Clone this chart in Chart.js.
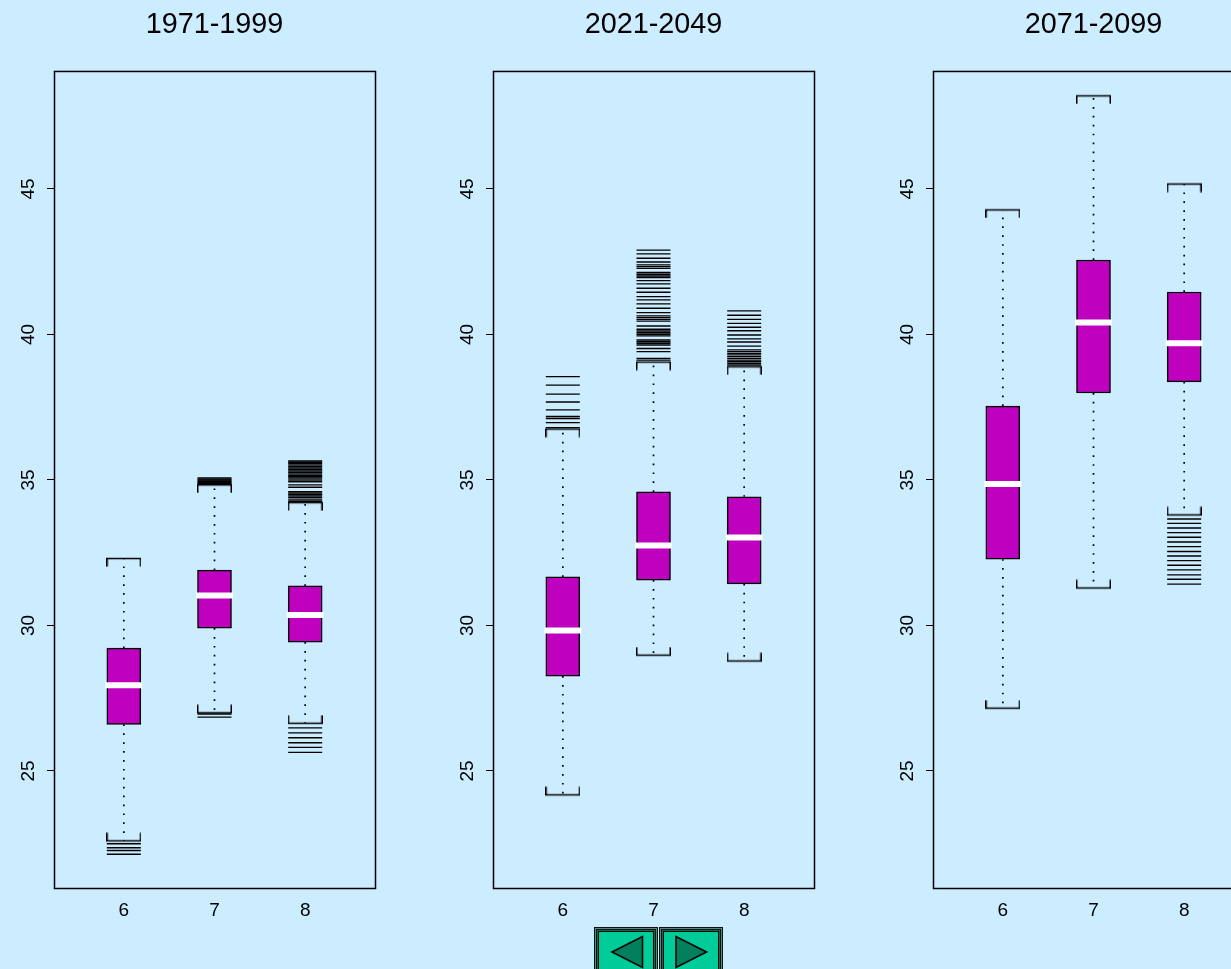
<!DOCTYPE html>
<html>
<head>
<meta charset="utf-8">
<script src="https://cdn.jsdelivr.net/npm/chart.js@4"></script>
<style>
html,body{margin:0;padding:0;width:1231px;height:969px;overflow:hidden;background:#CCECFF;}
canvas{position:absolute;top:0;}
svg{position:absolute;left:0;top:0;}
</style>
</head>
<body>
<canvas id="c0" width="400" height="969" style="left:0px"></canvas>
<canvas id="c1" width="400" height="969" style="left:439px"></canvas>
<canvas id="c2" width="400" height="969" style="left:879px"></canvas>
<svg width="1231" height="969">
  <g stroke="#000" stroke-width="1">
    <rect x="594.5" y="927.5" width="63" height="60" fill="#4f8f7f" stroke="#111"/>
    <rect x="596.5" y="929.5" width="59" height="56" fill="#0b6b55" stroke="#111"/>
    <rect x="598.5" y="931.5" width="55" height="50" fill="#00CC99"/>
    <rect x="659.5" y="927.5" width="63" height="60" fill="#4f8f7f" stroke="#111"/>
    <rect x="661.5" y="929.5" width="59" height="56" fill="#0b6b55" stroke="#111"/>
    <rect x="663.5" y="931.5" width="55" height="50" fill="#00CC99"/>
  </g>
  <polygon points="612,952 642.5,936.5 642.5,967.5" fill="#00805F" stroke="#000" stroke-width="1.6"/>
  <polygon points="706.5,952 676,936.5 676,967.5" fill="#00805F" stroke="#000" stroke-width="1.6"/>
</svg>
<script>
const months = [6, 7, 8];
const yTickValues = [25, 30, 35, 40, 45];
const titles = ['1971-1999', '2021-2049', '2071-2099'];

// 1971-1999
const q1A = [26.6, 29.91, 29.43];
const medA = [27.95, 31.03, 30.36];
const q3A = [29.22, 31.9, 31.36];
const loA = [22.6, 27.0, 26.64];
const hiA = [32.3, 34.83, 34.22];
const outA6 = [22.5, 22.36, 22.27, 22.14];
const outA7 = [34.85, 34.88, 34.91, 34.94, 34.97, 35.0, 35.03, 35.07, 26.96, 26.85];
const outA8 = [35.65, 35.61, 35.56, 35.51, 35.46, 35.41, 35.36, 35.31, 35.26, 35.21, 35.16, 35.11, 35.07, 35.0, 34.94, 34.83, 34.75, 34.6, 34.55, 34.5, 34.45, 34.39, 34.31, 34.25, 26.48, 26.31, 26.14, 25.97, 25.81, 25.64];

// 2021-2049
const q1B = [28.26, 31.56, 31.43];
const medB = [29.83, 32.75, 33.02];
const q3B = [31.67, 34.59, 34.42];
const loB = [24.18, 28.98, 28.78];
const hiB = [36.75, 39.05, 38.89];
const outB6 = [38.55, 38.26, 37.95, 37.68, 37.41, 37.18, 37.11, 36.97, 36.8];
const outB7 = [42.9, 42.77, 42.62, 42.49, 42.39, 42.33, 42.27, 42.13, 42.07, 42.01, 41.96, 41.85, 41.74, 41.59, 41.45, 41.3, 41.19, 41.05, 40.9, 40.75, 40.64, 40.58, 40.52, 40.46, 40.29, 40.18, 40.12, 40.06, 40.01, 39.95, 39.81, 39.75, 39.7, 39.64, 39.52, 39.41, 39.18, 39.12];
const outB8 = [40.81, 40.66, 40.52, 40.38, 40.25, 40.13, 39.98, 39.85, 39.74, 39.6, 39.47, 39.41, 39.35, 39.3, 39.24, 39.18, 39.12, 39.07, 39.01, 38.95];

// 2071-2099
const q1C = [32.28, 37.99, 38.37];
const medC = [34.86, 40.41, 39.7];
const q3C = [37.54, 42.56, 41.46];
const loC = [27.16, 31.29, 33.8];
const hiC = [44.28, 48.2, 45.17];
const outC6 = [];
const outC7 = [];
const outC8 = [33.66, 33.51, 33.35, 33.19, 33.03, 32.87, 32.71, 32.54, 32.39, 32.23, 32.07, 31.91, 31.74, 31.59, 31.42];

const panels = [
  {q1: q1A, med: medA, q3: q3A, lo: loA, hi: hiA, out: [outA6, outA7, outA8]},
  {q1: q1B, med: medB, q3: q3B, lo: loB, hi: hiB, out: [outB6, outB7, outB8]},
  {q1: q1C, med: medC, q3: q3C, lo: loC, hi: hiC, out: [outC6, outC7, outC8]}
];

const CAP_W = 35, SERIF = 8;
function capImage(down) {
  const c = document.createElement('canvas');
  c.width = CAP_W; c.height = SERIF * 2 + 1;
  const g = c.getContext('2d');
  g.strokeStyle = '#000'; g.lineWidth = 1.5;
  g.beginPath();
  if (down) {
    g.moveTo(0.75, SERIF + 8.5); g.lineTo(0.75, SERIF + 0.5); g.lineTo(CAP_W - 0.75, SERIF + 0.5); g.lineTo(CAP_W - 0.75, SERIF + 8.5);
  } else {
    g.moveTo(0.75, 0.5); g.lineTo(0.75, SERIF + 0.5); g.lineTo(CAP_W - 0.75, SERIF + 0.5); g.lineTo(CAP_W - 0.75, 0.5);
  }
  g.stroke();
  return c;
}
const capHighImg = capImage(true), capLowImg = capImage(false);

const borderPlugin = {
  id: 'frame',
  afterDraw(chart) {
    const a = chart.chartArea, g = chart.ctx;
    g.save(); g.strokeStyle = '#000'; g.lineWidth = 1.5;
    g.strokeRect(a.left + 0.5, a.top + 0.5, a.right - a.left, a.bottom - a.top);
    g.restore();
  }
};

panels.forEach((p, k) => {
  const whiskers = [];
  months.forEach((m, i) => {
    whiskers.push({x: m, y: p.q3[i]}, {x: m, y: p.hi[i]}, {x: m, y: null}, {x: m, y: p.q1[i]}, {x: m, y: p.lo[i]}, {x: m, y: null});
  });
  const outliers = [];
  months.forEach((m, i) => p.out[i].forEach(v => outliers.push({x: m, y: v})));
  new Chart(document.getElementById('c' + k), {
    data: {
      datasets: [
        {type: 'line', order: 5, data: whiskers, borderColor: '#000', borderWidth: 1.7, borderDash: [1.7, 7.2], pointRadius: 0, spanGaps: false, fill: false},
        {type: 'line', order: 4, showLine: false, data: months.map((m, i) => ({x: m, y: p.hi[i]})), pointStyle: capHighImg, pointRadius: 3, clip: false},
        {type: 'line', order: 4, showLine: false, data: months.map((m, i) => ({x: m, y: p.lo[i]})), pointStyle: capLowImg, pointRadius: 3, clip: false},
        {type: 'line', order: 3, showLine: false, data: outliers, pointStyle: 'line', pointRadius: 17, pointBorderWidth: 1.4, pointBorderColor: '#000'},
        {type: 'bar', order: 2, data: months.map((m, i) => ({x: m, y: [p.q1[i], p.q3[i]]})), backgroundColor: '#BF00BF', borderColor: '#000', borderWidth: 1.5, borderSkipped: false, barThickness: 34},
        {type: 'line', order: 1, showLine: false, data: months.map((m, i) => ({x: m, y: p.med[i]})), pointStyle: 'line', pointRadius: 18.5, pointBorderWidth: 6, pointBorderColor: '#FFFFFF'}
      ]
    },
    options: {
      responsive: false, animation: false,
      layout: {padding: {left: 0, right: 25, top: 0, bottom: 0}},
      plugins: {
        legend: {display: false}, tooltip: {enabled: false},
        title: {display: true, text: titles[k], fullSize: false, color: '#000', font: {family: 'Liberation Sans', size: 28.8, weight: 'normal'}, padding: {top: 8, bottom: 28.4}}
      },
      scales: {
        x: {
          type: 'linear', min: 5.23, max: 8.77, offset: false,
          afterBuildTicks: ax => { ax.ticks = months.map(v => ({value: v})); },
          afterFit: ax => { ax.height = 81; },
          grid: {display: false}, border: {display: false},
          ticks: {color: '#000', padding: 3, maxRotation: 0, autoSkip: false, font: {family: 'Liberation Sans', size: 19}}
        },
        y: {
          type: 'linear', min: 20.979, max: 49.055,
          afterBuildTicks: ax => { ax.ticks = yTickValues.map(v => ({value: v})); },
          afterFit: ax => { ax.width = 54; },
          grid: {drawOnChartArea: false, tickLength: 7, color: '#000', lineWidth: 1}, border: {display: false},
          ticks: {color: '#000', padding: 8, minRotation: 90, maxRotation: 90, crossAlign: 'center', autoSkip: false, font: {family: 'Liberation Sans', size: 19}}
        }
      }
    },
    plugins: [borderPlugin]
  });
});
</script>
</body>
</html>
